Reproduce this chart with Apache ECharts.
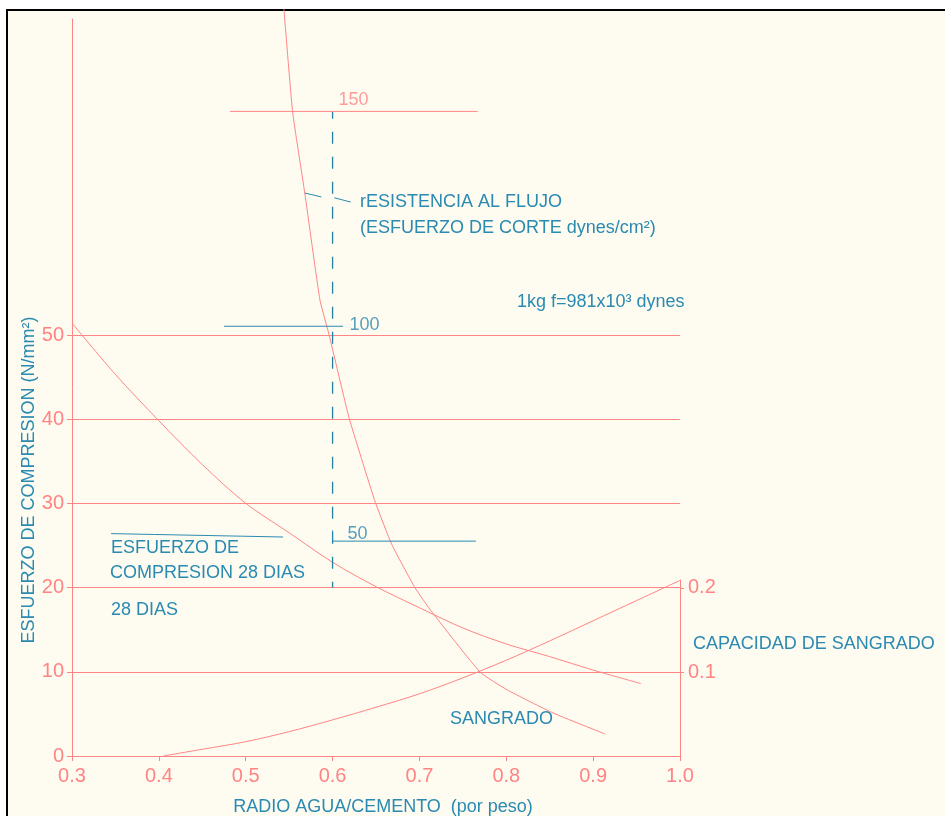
<!DOCTYPE html>
<html>
<head>
<meta charset="utf-8">
<script src="https://cdn.jsdelivr.net/npm/echarts@6/dist/echarts.min.js"></script>
<style>
  html, body { margin: 0; padding: 0; background: #ffffff; overflow: hidden; }
  #sheet { position: absolute; left: 6px; top: 9px; width: 945px; height: 816px;
           background: #FEFBF0; border-top: 2px solid #000; border-left: 2px solid #000; }
  #chart { position: absolute; left: 0; top: 0; width: 945px; height: 816px; }
</style>
</head>
<body>
<div id="sheet"></div>
<div id="chart"></div>
<script>
// Water/cement ratio range (x axis)
const xRange = [0.3, 1.0];

// Compressive strength at 28 days, N/mm2  [w/c, value]
const compresion = [
  [0.30, 51.4], [0.35, 45.3], [0.40, 39.8], [0.45, 34.6], [0.50, 30.0],
  [0.55, 26.5], [0.60, 23.0], [0.65, 20.1], [0.70, 17.6], [0.75, 15.2],
  [0.80, 13.3], [0.85, 11.8], [0.90, 10.2], [0.955, 8.6]
];

// Flow resistance (shear stress, dynes/cm2)  [w/c, value]
const resistencia = [
  [0.544, 173.8], [0.554, 149.9], [0.568, 131.0], [0.5855, 106.1], [0.596, 98.0],
  [0.619, 78.7], [0.641, 64.2], [0.650, 58.6], [0.668, 49.3], [0.695, 39.1],
  [0.7145, 33.5], [0.770, 19.5], [0.801, 15.4], [0.854, 10.0], [0.914, 5.1]
];

// Bleeding capacity  [w/c, value]
const sangrado = [
  [0.405, 0.000], [0.45, 0.008], [0.50, 0.017], [0.55, 0.029], [0.60, 0.043],
  [0.65, 0.058], [0.70, 0.074], [0.75, 0.093], [0.80, 0.114], [0.85, 0.137],
  [0.90, 0.161], [0.95, 0.185], [1.00, 0.209]
];

// Shear-stress scale marks (dynes/cm2)
const escalaCorte = [150, 100, 50];
const marca150 = [[0.482, 150], [0.767, 150]];
const marca100 = [[0.475, 100], [0.612, 100]];
const marca50 = [[0.6, 52.5], [0.6, 50], [0.765, 50]];

// Reference line at w/c = 0.6 (compressive units), drawn top-down
const guia06 = [[0.6, 76.5], [0.6, 20]];

// Leader lines for the annotations
const guiaFlujoA = [[0.568, 131.0], [0.587, 130.1]];
const guiaFlujoB = [[0.602, 129.9], [0.621, 128.9]];
const guiaCompresion = [[0.345, 26.4], [0.395, 26.3], [0.494, 26.1], [0.543, 26.0]];

const RED = '#FF8484';
const BLUE = '#2A8AB2';
const DASH = '#23809F';
const FONT = '"Liberation Sans", Arial, sans-serif';

function lineSeries(data, color, yAxisIndex, extra) {
  return Object.assign({
    type: 'line', data: data, xAxisIndex: 0, yAxisIndex: yAxisIndex,
    symbol: 'none', silent: true, clip: false, animation: false,
    lineStyle: { color: color, width: 1 }, z: 3
  }, extra || {});
}

function annot(text, x, y, extra) {
  return Object.assign({
    type: 'text', x: x, y: y, silent: true,
    style: { text: text, fill: BLUE, font: '18px ' + FONT, align: 'left', verticalAlign: 'middle' }
  }, extra || {});
}

const chart = echarts.init(document.getElementById('chart'), null, { renderer: 'canvas' });

const gridBase = { left: 72, right: 265, bottom: 60, containLabel: false, outerBoundsMode: 'none' };

chart.setOption({
  backgroundColor: 'transparent',
  animation: false,
  grid: [
    Object.assign({ top: 19 }, gridBase),   // full plotting area
    Object.assign({ top: 335 }, gridBase),  // compressive strength scale 0-50
    Object.assign({ top: 580 }, gridBase)   // bleeding capacity scale
  ],
  xAxis: [
    {
      gridIndex: 0, type: 'value', min: xRange[0], max: xRange[1], interval: 0.1,
      axisLine: { show: true, lineStyle: { color: RED, width: 1 } },
      axisTick: { show: true, length: 5, lineStyle: { color: RED } },
      axisLabel: { color: RED, fontSize: 20, fontFamily: FONT, margin: 10,
                   formatter: v => v.toFixed(1) },
      splitLine: { show: false },
      name: 'RADIO AGUA/CEMENTO  (por peso)', nameLocation: 'middle', nameGap: 42,
      nameTextStyle: { color: BLUE, fontSize: 18, fontFamily: FONT, padding: [0, 0, 0, 14] }
    },
    { gridIndex: 1, type: 'value', min: xRange[0], max: xRange[1], show: false },
    { gridIndex: 2, type: 'value', min: xRange[0], max: xRange[1], show: false }
  ],
  yAxis: [
    { // left axis line over the whole height
      gridIndex: 0, type: 'value', min: 0, max: 87.5,
      axisLine: { show: true, lineStyle: { color: RED, width: 1 } },
      axisTick: { show: false }, axisLabel: { show: false }, splitLine: { show: false }
    },
    { // shear stress (dynes/cm2), not drawn
      gridIndex: 0, type: 'value', min: 0, max: 171.5, show: false
    },
    { // compressive strength ticks, labels and grid lines
      gridIndex: 1, type: 'value', min: 0, max: 50, interval: 10,
      axisLine: { show: false },
      axisTick: { show: true, length: 5, lineStyle: { color: RED } },
      axisLabel: { color: RED, fontSize: 20, fontFamily: FONT, margin: 8 },
      splitLine: { show: true, showMinLine: false, lineStyle: { color: RED, width: 1 } }
    },
    { // bleeding capacity, right side
      gridIndex: 2, type: 'value', position: 'right', min: 0, max: 0.2095, interval: 0.1,
      axisLine: { show: true, lineStyle: { color: RED, width: 1 } },
      axisTick: { show: true, length: 4, lineStyle: { color: RED } },
      axisLabel: { color: RED, fontSize: 20, fontFamily: FONT, margin: 8,
                   showMinLabel: false, showMaxLabel: false, formatter: v => v.toFixed(1) },
      splitLine: { show: false }
    }
  ],
  series: [
    lineSeries(compresion, RED, 0, { name: 'Esfuerzo de compresión', smooth: 0.3 }),
    lineSeries(resistencia, RED, 1, { name: 'Resistencia al flujo', smooth: 0.15 }),
    Object.assign(lineSeries(sangrado, RED, 3, { name: 'Sangrado', smooth: 0.3 }), { xAxisIndex: 2 }),
    lineSeries(guia06, DASH, 0, { lineStyle: { color: DASH, width: 1.3, type: [12, 13], dashOffset: 5 } }),
    lineSeries(marca150, RED, 1),
    lineSeries(marca100, BLUE, 1),
    lineSeries(marca50, BLUE, 1),
    lineSeries(guiaFlujoA, BLUE, 1),
    lineSeries(guiaFlujoB, BLUE, 1),
    lineSeries(guiaCompresion, BLUE, 0),
    {
      type: 'scatter', xAxisIndex: 0, yAxisIndex: 1, symbolSize: 0, silent: true,
      animation: false, z: 4,
      data: [
        { value: [0.6, escalaCorte[0]], label: { color: RED, offset: [6, -11] } },
        { value: [0.6, escalaCorte[1]], label: { color: BLUE, offset: [17, -1] } },
        { value: [0.6, escalaCorte[2]], label: { color: BLUE, offset: [15, -7] } }
      ],
      label: { show: true, position: 'right', distance: 0, fontSize: 18, fontFamily: FONT,
               formatter: p => String(p.value[1]) }
    }
  ],
  graphic: [
    annot('rESISTENCIA AL FLUJO', 360, 202),
    annot('(ESFUERZO DE CORTE dynes/cm\u00B2)', 360, 228),
    annot('1kg f=981x10\u00B3 dynes', 517, 302),
    annot('ESFUERZO DE', 111, 548),
    annot('COMPRESION 28 DIAS', 110, 573),
    annot('28 DIAS', 111, 610),
    annot('SANGRADO', 450, 719),
    annot('CAPACIDAD DE SANGRADO', 693, 644),
    annot('ESFUERZO DE COMPRESION (N/mm\u00B2)', 29, 480, {
      rotation: Math.PI / 2,
      style: { text: 'ESFUERZO DE COMPRESION (N/mm\u00B2)', fill: BLUE, font: '18px ' + FONT,
               align: 'center', verticalAlign: 'middle' }
    })
  ]
});
</script>
</body>
</html>
